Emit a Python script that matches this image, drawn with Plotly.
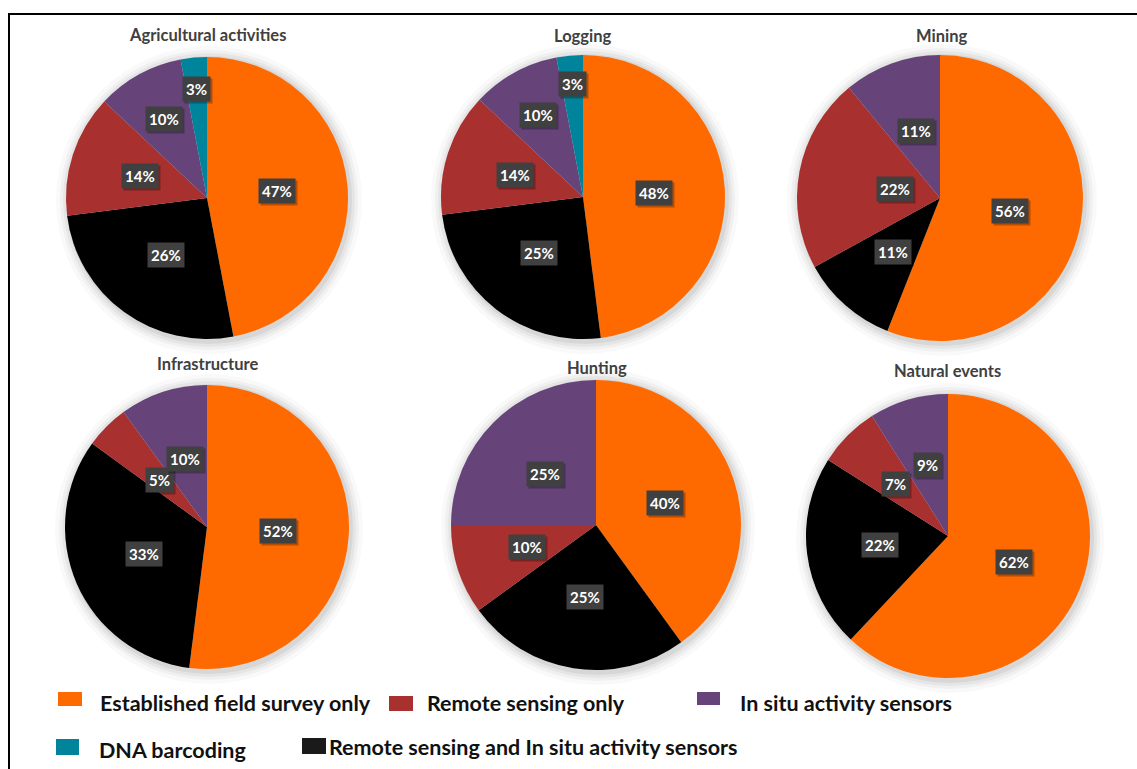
import math
import plotly.graph_objects as go

# ---------------- data ----------------
titles = ["Agricultural activities", "Logging", "Mining",
          "Infrastructure", "Hunting", "Natural events"]
categories = ["Established field survey only",
              "Remote sensing and In situ activity sensors",
              "Remote sensing only",
              "In situ activity sensors",
              "DNA barcoding"]
agri = [47, 26, 14, 10, 3]
logging = [48, 25, 14, 10, 3]
mining = [56, 11, 22, 11, 0]
infrastructure = [52, 33, 5, 10, 0]
hunting = [40, 25, 10, 25, 0]
natural = [62, 22, 7, 9, 0]
series = [agri, logging, mining, infrastructure, hunting, natural]

legend_rows = [["Established field survey only", "Remote sensing only", "In situ activity sensors"],
               ["DNA barcoding", "Remote sensing and In situ activity sensors"]]

# ---------------- style / layout ----------------
W, H = 1137, 769
colors = {"Established field survey only": "#FF6A00",
          "Remote sensing and In situ activity sensors": "#000000",
          "Remote sensing only": "#A8302E",
          "In situ activity sensors": "#66447A",
          "DNA barcoding": "#00849C"}
centers = [(207, 198, 141), (583, 197, 142), (940, 198, 143),
           (207, 527, 142), (596, 525, 145), (948, 536, 142)]
title_pos = [(207, 35), (582, 36), (941, 36), (207, 364), (597, 368), (947, 371)]
# radial placement of percentage boxes (fraction of radius), per pie / slice
label_radius = [[0.5, 0.5, 0.5, 0.64, 0.78],
                [0.5, 0.5, 0.5, 0.66, 0.8],
                [0.5, 0.5, 0.32, 0.5, 0.5],
                [0.5, 0.48, 0.47, 0.5, 0.5],
                [0.5, 0.5, 0.5, 0.5, 0.5],
                [0.5, 0.48, 0.52, 0.52, 0.5]]
FONT = "Lato, 'Open Sans', sans-serif"


def px(x):
    return x / W


def py(y):
    return 1 - y / H


fig = go.Figure()
shapes = []
annotations = []

for i, vals in enumerate(series):
    cx, cy, r = centers[i]
    # soft halo behind pie
    for extra, op in [(12, 0.025), (8, 0.035), (5, 0.045), (2, 0.06)]:
        shapes.append(dict(type="circle", xref="paper", yref="paper",
                           x0=px(cx - r - extra + 2), x1=px(cx + r + extra + 2),
                           y0=py(cy + r + extra + 3), y1=py(cy - r - extra + 1),
                           fillcolor=f"rgba(0,0,0,{op})", line=dict(width=0),
                           layer="below"))
    fig.add_trace(go.Pie(
        labels=categories, values=vals, sort=False, direction="clockwise",
        rotation=0, textinfo="none", textposition="none",
        marker=dict(colors=[colors[c] for c in categories], line=dict(width=0)),
        domain=dict(x=[px(cx - r), px(cx + r)], y=[py(cy + r), py(cy - r)]),
        showlegend=False, hole=0,
    ))
    # title
    tx, ty = title_pos[i]
    annotations.append(dict(x=px(tx), y=py(ty), xref="paper", yref="paper",
                            text=titles[i], showarrow=False,
                            font=dict(family=FONT, size=16.5, color="#404040", weight="bold"),
                            xanchor="center", yanchor="middle"))
    # percentage labels
    total = sum(vals)
    cum = 0
    for j, v in enumerate(vals):
        if v > 0:
            theta = 2 * math.pi * (cum + v / 2) / total
            d = label_radius[i][j] * r
            lx = cx + d * math.sin(theta)
            ly = cy - d * math.cos(theta)
            # shadow
            annotations.append(dict(x=px(lx + 2), y=py(ly + 2), xref="paper", yref="paper",
                                    text=f"{v}%", showarrow=False,
                                    font=dict(family=FONT, size=15, color="rgba(0,0,0,0)", weight="bold"),
                                    bgcolor="rgba(0,0,0,0.28)", borderpad=3,
                                    xanchor="center", yanchor="middle"))
            annotations.append(dict(x=px(lx), y=py(ly), xref="paper", yref="paper",
                                    text=f"{v}%", showarrow=False,
                                    font=dict(family=FONT, size=15, color="#FFFFFF", weight="bold"),
                                    bgcolor="#404040", borderpad=3,
                                    xanchor="center", yanchor="middle"))
        cum += v

# ---------------- custom legend ----------------
legend_swatch = {"Established field survey only": (58, 692, 24, 14),
                 "Remote sensing only": (389, 696, 24, 15),
                 "In situ activity sensors": (697, 692, 23, 13),
                 "DNA barcoding": (56, 739, 23, 16),
                 "Remote sensing and In situ activity sensors": (302, 738, 24, 16)}
legend_text = {"Established field survey only": (98, 703),
               "Remote sensing only": (425, 703),
               "In situ activity sensors": (738, 703),
               "DNA barcoding": (97, 750),
               "Remote sensing and In situ activity sensors": (327, 747)}
for row in legend_rows:
    for name in row:
        sx, sy, sw, sh = legend_swatch[name]
        shapes.append(dict(type="rect", xref="paper", yref="paper",
                           x0=px(sx), x1=px(sx + sw), y0=py(sy + sh), y1=py(sy),
                           fillcolor=colors[name] if name != "Remote sensing and In situ activity sensors" else "#1a1a1a",
                           line=dict(width=0)))
        tx, ty = legend_text[name]
        annotations.append(dict(x=px(tx), y=py(ty), xref="paper", yref="paper",
                                text=name, showarrow=False,
                                font=dict(family=FONT, size=21.5, color="#111111", weight="bold"),
                                xanchor="left", yanchor="middle"))

# frame
shapes.append(dict(type="rect", xref="paper", yref="paper",
                   x0=px(9), x1=px(W + 20), y0=py(H + 20), y1=py(14),
                   line=dict(color="#000000", width=2), fillcolor="rgba(0,0,0,0)"))

fig.update_layout(width=W, height=H, margin=dict(l=0, r=0, t=0, b=0),
                  paper_bgcolor="#FFFFFF", plot_bgcolor="#FFFFFF",
                  shapes=shapes, annotations=annotations, showlegend=False)

fig.write_html("out.html")
